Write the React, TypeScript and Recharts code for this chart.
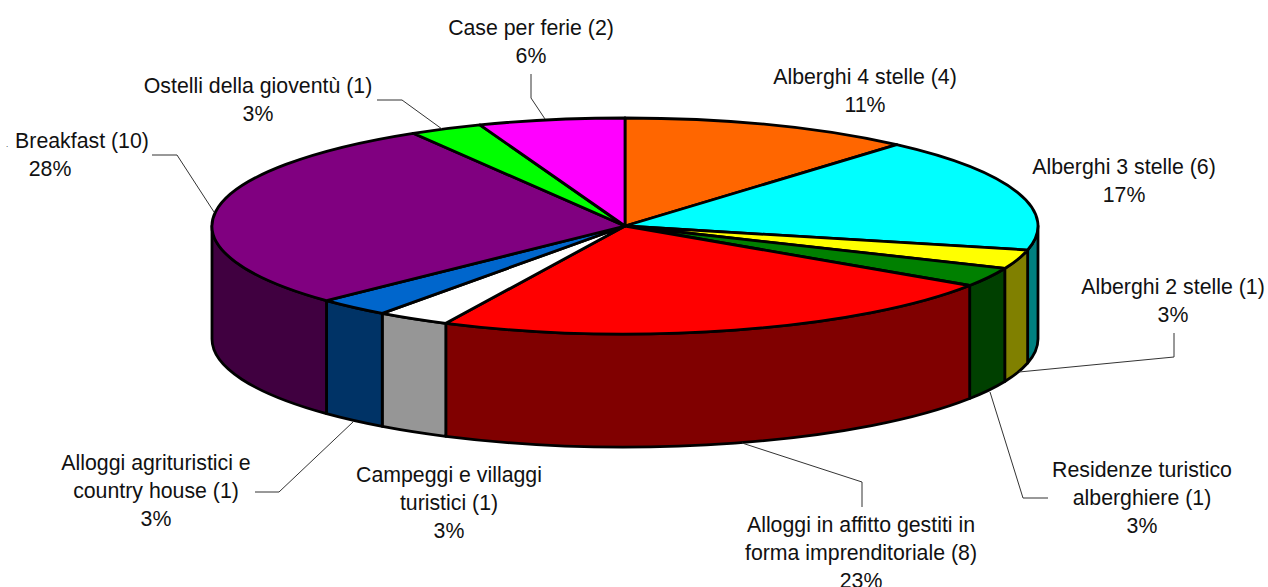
import { PieChart, Pie, Cell } from "recharts";

const CATEGORIES = [
  "Alberghi 4 stelle",
  "Alberghi 3 stelle",
  "Alberghi 2 stelle",
  "Residenze turistico alberghiere",
  "Alloggi in affitto gestiti in forma imprenditoriale",
  "Campeggi e villaggi turistici",
  "Alloggi agrituristici e country house",
  "Breakfast",
  "Ostelli della gioventù",
  "Case per ferie",
];
const VALUES = [4, 6, 1, 1, 8, 1, 1, 10, 1, 2];

const TOP_COLORS = [
  "#ff6600",
  "#00ffff",
  "#ffff00",
  "#008000",
  "#ff0000",
  "#ffffff",
  "#0066cc",
  "#800080",
  "#00ff00",
  "#ff00ff",
];
const SIDE_COLORS = [
  "#803300",
  "#008080",
  "#808000",
  "#004000",
  "#800000",
  "#969696",
  "#003366",
  "#400040",
  "#008000",
  "#800080",
];

const LABEL_TEXT = [
  ["Alberghi 4 stelle (4)", "11%"],
  ["Alberghi 3 stelle (6)", "17%"],
  ["Alberghi 2 stelle (1)", "3%"],
  ["Residenze turistico", "alberghiere (1)", "3%"],
  ["Alloggi in affitto gestiti in", "forma imprenditoriale (8)", "23%"],
  ["Campeggi e villaggi", "turistici (1)", "3%"],
  ["Alloggi agrituristici e", "country house (1)", "3%"],
  ["Breakfast (10)", "28%"],
  ["Ostelli della gioventù (1)", "3%"],
  ["Case per ferie (2)", "6%"],
];

// label placement, [center x, first line y]
const LABEL_POS = [
  [865, 77],
  [1124, 167],
  [1173, 287],
  [1142, 470],
  [861, 525],
  [449, 475],
  [156, 463],
  [82, 141],
  [258, 86],
  [531, 28],
];

const LEADERS = [
  "",
  "",
  "1174,333 1174,357 1019,372",
  "990,392 1023,498 1048,498",
  "742,443 862,482 862,507",
  "",
  "353,422 279,492 255,492",
  "152,155 177,155 214,212",
  "377,100 402,100 442,129",
  "531,74 531,98 545,119",
];

const tableData = CATEGORIES.map((name, i) => ({ name, value: VALUES[i] }));

const CX = 625;
const CY = 226;
const RX = 413;
const SQUASH = 108 / 413;
const DEPTH = 113;
const LINE_H = 28;
const FONT = "'Liberation Sans', Arial, sans-serif";

function pt(deg: number) {
  const r = (deg * Math.PI) / 180;
  return {
    x: CX + RX * Math.cos(r),
    y: CY - RX * SQUASH * Math.sin(r),
  };
}

function TopSlice(props: any) {
  const { startAngle, endAngle, fill } = props;
  const a = pt(startAngle);
  const b = pt(endAngle);
  const large = startAngle - endAngle > 180 ? 1 : 0;
  const d = `M${CX},${CY} L${a.x},${a.y} A${RX},${RX * SQUASH} 0 ${large} 1 ${b.x},${b.y} Z`;
  return <path d={d} fill={fill} stroke="#000" strokeWidth={2.8} strokeLinejoin="round" />;
}

function WallSlice(props: any) {
  const { startAngle, endAngle, fill } = props;
  // only the front half of the cake shows a wall
  const s = Math.min(startAngle, 0);
  const e = Math.max(endAngle, -180);
  if (s <= e) return <g />;
  const a = pt(s);
  const b = pt(e);
  const ry = RX * SQUASH;
  const d =
    `M${a.x},${a.y} A${RX},${ry} 0 0 1 ${b.x},${b.y} ` +
    `L${b.x},${b.y + DEPTH} A${RX},${ry} 0 0 0 ${a.x},${a.y + DEPTH} Z`;
  return <path d={d} fill={fill} stroke="#000" strokeWidth={2.8} strokeLinejoin="round" />;
}

function SliceLabel(props: any) {
  const { index } = props;
  const [x, y] = LABEL_POS[index];
  return (
    <g>
      {LEADERS[index] && (
        <polyline points={LEADERS[index]} fill="none" stroke="#333" strokeWidth={1} />
      )}
      {LABEL_TEXT[index].map((line, i) => (
        <text
          key={i}
          // the Breakfast percentage sits left of its first line
          x={index === 7 && i === 1 ? 50 : x}
          y={y + i * LINE_H}
          textAnchor="middle"
          dominantBaseline="central"
          fontSize={21.3}
          fontFamily={FONT}
          fill="#111"
        >
          {line}
        </text>
      ))}
      {/* stray dot left of the Breakfast label */}
      {index === 7 && (
        <text x={7} y={147} textAnchor="middle" fontSize={8} fontFamily={FONT} fill="#111">
          .
        </text>
      )}
    </g>
  );
}

export default function App() {
  return (
    <div style={{ position: "absolute", left: 0, top: 0, width: 1268, height: 587, background: "#fff" }}>
      <PieChart
        width={1268}
        height={587}
        margin={{ top: 0, right: 0, bottom: 0, left: 0 }}
        style={{ display: "block" }}
      >
        <Pie
          data={tableData}
          dataKey="value"
          nameKey="name"
          cx={CX}
          cy={CY}
          outerRadius={RX}
          startAngle={90}
          endAngle={-270}
          shape={WallSlice}
          rootTabIndex={-1}
          isAnimationActive={false}
        >
          {tableData.map((_, i) => (
            <Cell key={i} fill={SIDE_COLORS[i]} />
          ))}
        </Pie>
        <Pie
          data={tableData}
          dataKey="value"
          nameKey="name"
          cx={CX}
          cy={CY}
          outerRadius={RX}
          startAngle={90}
          endAngle={-270}
          shape={TopSlice}
          label={SliceLabel}
          labelLine={false}
          rootTabIndex={-1}
          isAnimationActive={false}
        >
          {tableData.map((_, i) => (
            <Cell key={i} fill={TOP_COLORS[i]} />
          ))}
        </Pie>
      </PieChart>
    </div>
  );
}
